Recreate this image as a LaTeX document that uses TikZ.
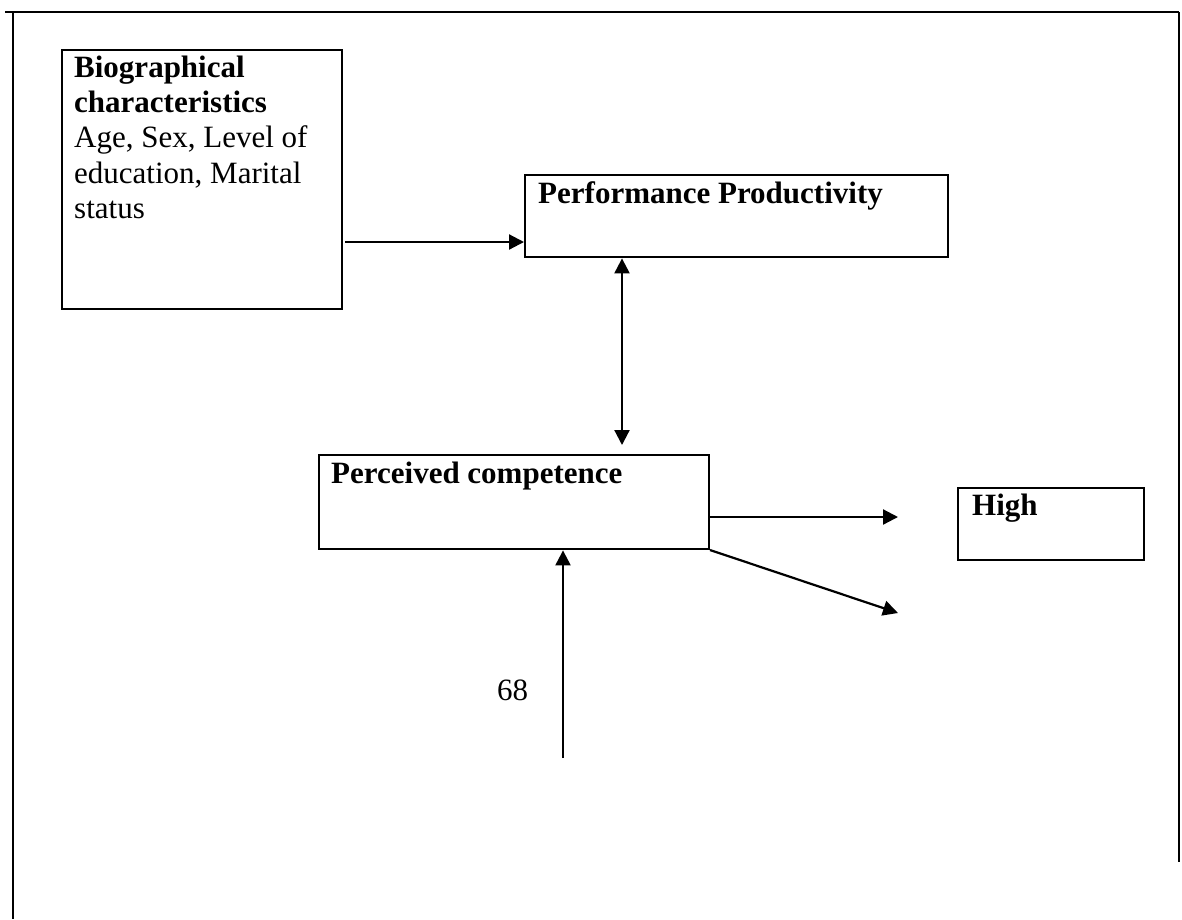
\documentclass[tikz,border=0pt]{standalone}
\usepackage{fontspec}
\setmainfont{Liberation Serif}
\usetikzlibrary{arrows.meta}
\begin{document}
\begin{tikzpicture}[x=1pt,y=-1pt,
  boxnode/.style={draw,line width=2.4pt,inner sep=0pt,anchor=north west},
  txt/.style={anchor=base west,inner sep=0pt,font=\fontsize{31}{35.4}\selectfont},
  arr/.style={line width=2.2pt,-{Triangle[length=15pt,width=15pt]}},
  darr/.style={line width=2.2pt,{Triangle[length=15pt,width=15pt]}-{Triangle[length=15pt,width=15pt]}},
  frame/.style={line width=2.2pt}]
\useasboundingbox (0,0) rectangle (1182,919);
% frame
\coordinate (ftl) at (5,12);
\coordinate (ftr) at (1179,12);
\coordinate (fl1) at (13,12);
\coordinate (fl2) at (13,919);
\coordinate (fr2) at (1179,862);
\draw[frame] (ftl) -- (ftr);
\draw[frame] (fl1) -- (fl2);
\draw[frame] (ftr) -- (fr2);
% boxes
\node[boxnode,minimum width=280pt,minimum height=259pt] (bio) at (61,49) {};
\node[boxnode,minimum width=423pt,minimum height=82pt] (perf) at (524,174) {};
\node[boxnode,minimum width=390pt,minimum height=94pt] (perc) at (318,454) {};
\node[boxnode,minimum width=186pt,minimum height=72pt] (high) at (957,487) {};
% texts
\node[txt] (biot) at (74,77) {\vtop{\hbox{\textbf{Biographical}}\hbox{\textbf{characteristics}}\hbox{Age, Sex, Level of}\hbox{education, Marital}\hbox{status}}};
\node[txt] (perft) at (538,203) {\textbf{Performance Productivity}};
\node[txt] (perct) at (331,483) {\textbf{Perceived competence}};
\node[txt] (hight) at (972,515) {\textbf{High}};
\node[txt] (num) at (497,700) {68};
% connectors
\coordinate (a1) at (345,242);
\draw[arr] (a1) -- (perf.west |- a1);
\coordinate (d2) at (622,445);
\draw[darr] (perf.south -| d2) -- (d2);
\coordinate (h2) at (898,517);
\draw[arr] (perc.east |- h2) -- (h2);
\coordinate (g1) at (710,550);
\coordinate (g2) at (898,613);
\draw[arr] (g1) -- (g2);
\coordinate (u1) at (563,758);
\draw[arr] (u1) -- (perc.south -| u1);
\end{tikzpicture}
\end{document}
